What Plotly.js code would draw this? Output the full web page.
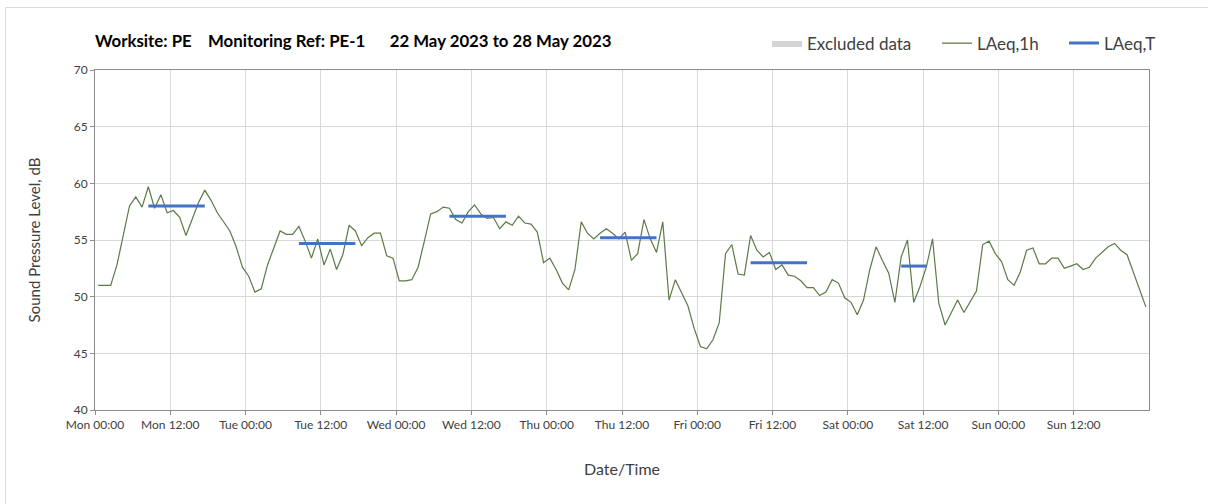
<!DOCTYPE html>
<html>
<head>
<meta charset="utf-8">
<script src="https://cdn.plot.ly/plotly-3.0.1.min.js"></script>
<style>
  html, body { margin: 0; padding: 0; background: #fff; }
  #wrap { position: relative; width: 1208px; height: 504px; }
  #frame { position: absolute; left: 5px; top: 7px; right: -2px; bottom: -2px; border-left: 1px solid #dcdcdc; border-top: 1px solid #dcdcdc; pointer-events: none; }
  #chart { position: absolute; left: 0; top: 0; width: 1208px; height: 504px; }
</style>
</head>
<body>
<div id="wrap">
  <div id="chart"></div>
  <div id="frame"></div>
</div>
<script>
// ---- Data ----
const startTime = "2023-05-22T00:30:00"; // first hourly sample (hour midpoint)
const laeq1hMon = [51.0, 51.0, 51.0, 52.8, 55.4, 58.0, 58.8, 57.9, 59.7, 57.8, 59.0, 57.4, 57.6, 57.0, 55.4, 56.8, 58.3, 59.4, 58.5, 57.4, 56.6, 55.8, 54.4, 52.6];
const laeq1hTue = [51.8, 50.4, 50.7, 52.8, 54.3, 55.8, 55.5, 55.5, 56.2, 54.9, 53.4, 55.1, 52.8, 54.2, 52.4, 53.7, 56.3, 55.8, 54.5, 55.2, 55.6, 55.6, 53.6, 53.4];
const laeq1hWed = [51.4, 51.4, 51.5, 52.6, 54.9, 57.3, 57.5, 57.9, 57.8, 56.8, 56.5, 57.5, 58.1, 57.3, 56.9, 57.0, 56.0, 56.6, 56.3, 57.1, 56.5, 56.4, 55.7, 53.0];
const laeq1hThu = [53.4, 52.4, 51.2, 50.6, 52.4, 56.6, 55.6, 55.1, 55.6, 56.0, 55.6, 55.1, 55.7, 53.2, 53.8, 56.8, 55.1, 53.9, 56.6, 49.7, 51.5, 50.4, 49.2, 47.2];
const laeq1hFri = [45.6, 45.4, 46.2, 47.7, 53.8, 54.6, 52.0, 51.9, 55.4, 54.1, 53.5, 53.9, 52.4, 52.8, 51.9, 51.8, 51.4, 50.8, 50.8, 50.1, 50.4, 51.5, 51.2, 49.9];
const laeq1hSat = [49.5, 48.4, 49.7, 52.4, 54.4, 53.2, 52.1, 49.5, 53.5, 55.0, 49.5, 50.9, 52.6, 55.1, 49.4, 47.5, 48.6, 49.7, 48.6, 49.6, 50.5, 54.6, 54.9, 53.8];
const laeq1hSun = [53.1, 51.5, 51.0, 52.2, 54.1, 54.3, 52.9, 52.9, 53.4, 53.4, 52.5, 52.7, 52.9, 52.4, 52.6, 53.4, 53.9, 54.4, 54.7, 54.1, 53.7, 52.2, 50.7, 49.1];

// LAeq,T periods (daytime)
const laeqTStart = ["2023-05-22 08:30", "2023-05-23 08:30", "2023-05-24 08:30", "2023-05-25 08:30", "2023-05-26 08:30", "2023-05-27 08:30"];
const laeqTEnd   = ["2023-05-22 17:30", "2023-05-23 17:30", "2023-05-24 17:30", "2023-05-25 17:30", "2023-05-26 17:30", "2023-05-27 12:30"];
const laeqTValue = [58.0, 54.7, 57.1, 55.2, 53.0, 52.7];

const tickVals = ["2023-05-22 00:00","2023-05-22 12:00","2023-05-23 00:00","2023-05-23 12:00","2023-05-24 00:00","2023-05-24 12:00","2023-05-25 00:00","2023-05-25 12:00","2023-05-26 00:00","2023-05-26 12:00","2023-05-27 00:00","2023-05-27 12:00","2023-05-28 00:00","2023-05-28 12:00"];
const tickText = ["Mon 00:00","Mon 12:00","Tue 00:00","Tue 12:00","Wed 00:00","Wed 12:00","Thu 00:00","Thu 12:00","Fri 00:00","Fri 12:00","Sat 00:00","Sat 12:00","Sun 00:00","Sun 12:00"];

// ---- Build traces ----
const laeq1h = [].concat(laeq1hMon, laeq1hTue, laeq1hWed, laeq1hThu, laeq1hFri, laeq1hSat, laeq1hSun);
function fmt(d) {
  const p = n => String(n).padStart(2, "0");
  return d.getUTCFullYear() + "-" + p(d.getUTCMonth() + 1) + "-" + p(d.getUTCDate()) + " " + p(d.getUTCHours()) + ":" + p(d.getUTCMinutes());
}
const t0 = Date.parse(startTime + "Z");
const hourX = laeq1h.map((_, i) => fmt(new Date(t0 + i * 3600000)));

const tX = [], tY = [];
laeqTValue.forEach((v, i) => {
  tX.push(laeqTStart[i], laeqTEnd[i], null);
  tY.push(v, v, null);
});

const FONT = "Lato, 'Open Sans', sans-serif";

const traces = [
  {
    type: "scatter", mode: "lines", name: "Excluded data", legend: "legend",
    x: [null], y: [null], fill: "toself",
    fillcolor: "#d4d4d4", line: { width: 0, color: "#d4d4d4" },
    showlegend: true, hoverinfo: "skip"
  },
  {
    type: "scatter", mode: "lines", name: "LAeq,1h", legend: "legend2",
    x: hourX, y: laeq1h,
    line: { color: "#5b7a45", width: 1.2 }
  },
  {
    type: "scatter", mode: "lines", name: "LAeq,T", legend: "legend3",
    x: tX, y: tY, connectgaps: false,
    line: { color: "#4472c4", width: 3 }
  }
];

const PW = 1054;
function px2paper(px) { return (px - 95) / PW; }
function legendAt(px) {
  return {
    orientation: "h", x: px2paper(px), xanchor: "left", y: 1.078, yanchor: "middle",
    font: { family: FONT, size: 17, color: "#404040" },
    itemwidth: 30, bgcolor: "rgba(0,0,0,0)", borderwidth: 0
  };
}

const layout = {
  width: 1208, height: 504,
  margin: { l: 95, r: 59, t: 70, b: 94, pad: 0 },
  paper_bgcolor: "#ffffff", plot_bgcolor: "#ffffff",
  font: { family: FONT, size: 12, color: "#404040" },
  showlegend: true,
  legend: legendAt(767),
  legend2: legendAt(937),
  legend3: legendAt(1064),
  xaxis: {
    type: "date",
    range: ["2023-05-22 00:00", "2023-05-29 00:00"],
    tickmode: "array", tickvals: tickVals, ticktext: tickText,
    showgrid: true, gridcolor: "#d9d9d9", gridwidth: 1,
    showline: true, linecolor: "#8c8c8c", linewidth: 1, mirror: true,
    ticks: "outside", ticklen: 4, tickcolor: "#8c8c8c",
    tickfont: { family: FONT, size: 12, color: "#404040" },
    title: { text: "Date/Time", font: { family: FONT, size: 16, color: "#404040" }, standoff: 32 },
    zeroline: false, fixedrange: true
  },
  yaxis: {
    range: [40, 70], dtick: 5, tick0: 40,
    showgrid: true, gridcolor: "#d9d9d9", gridwidth: 1,
    showline: true, linecolor: "#8c8c8c", linewidth: 1, mirror: true,
    ticks: "outside", ticklen: 4, tickcolor: "#8c8c8c",
    tickfont: { family: FONT, size: 12, color: "#404040" },
    title: { text: "Sound Pressure Level, dB", font: { family: FONT, size: 15, color: "#404040" }, standoff: 29 },
    zeroline: false, fixedrange: true
  },
  annotations: [
    {
      xref: "paper", yref: "paper", x: -0.002, y: 1.088, xanchor: "left", yanchor: "middle",
      text: "<b>Worksite: PE\u00a0\u00a0\u00a0\u00a0Monitoring Ref: PE-1\u00a0\u00a0\u00a0\u00a0\u00a0\u00a022 May 2023 to 28 May 2023</b>",
      showarrow: false, font: { family: FONT, size: 16.8, color: "#000000" }
    }
  ]
};

Plotly.newPlot("chart", traces, layout, { displayModeBar: false, staticPlot: true });
</script>
</body>
</html>
